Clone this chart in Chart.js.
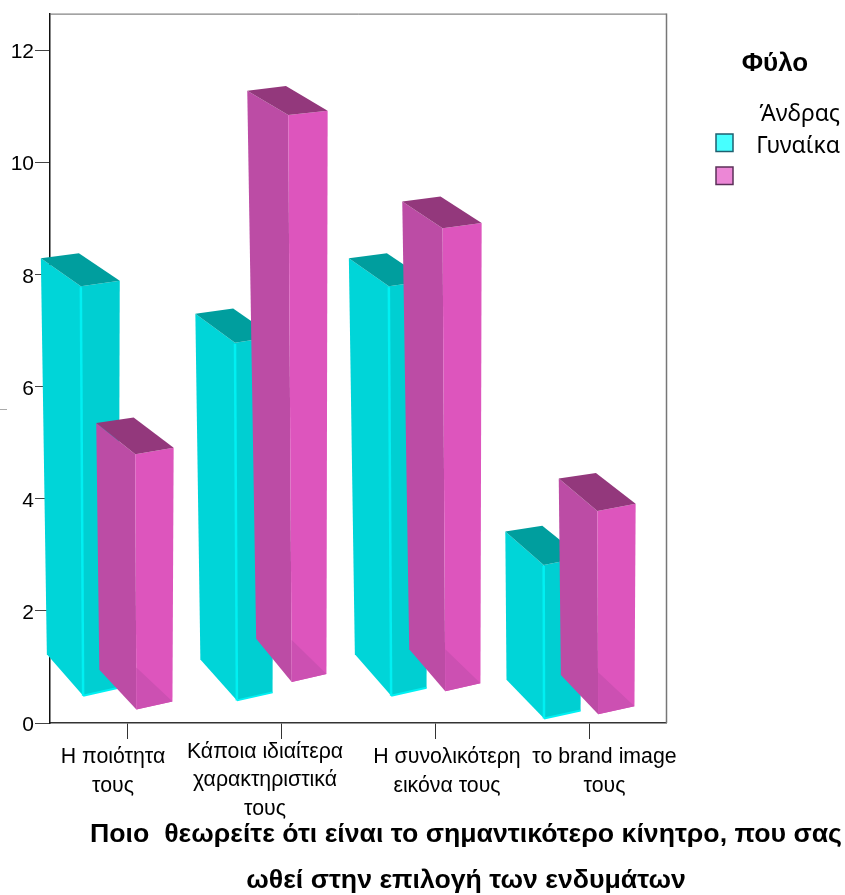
<!DOCTYPE html>
<html>
<head>
  <meta charset="UTF-8">
  <title>Chart</title>
  <script src="https://cdn.jsdelivr.net/npm/chart.js@4/dist/chart.umd.min.js"></script>
  <style>
    html, body { margin: 0; background: #fff; }
    canvas { display: block; }
  </style>
</head>
<body>
  <canvas id="chart" width="845" height="895"></canvas>
  <script>
    const categories = [
      ['Η ποιότητα', 'τους'],
      ['Κάποια ιδιαίτερα', 'χαρακτηριστικά', 'τους'],
      ['Η συνολικότερη', 'εικόνα τους'],
      ['το brand image', 'τους']
    ]
    const seriesNames = ['Άνδρας', 'Γυναίκα']
    const maleValues = [8, 7, 8, 3.07]
    const femaleValues = [5, 11, 9, 4]
    const legendTitle = 'Φύλο'
    const bottomTitle = [
      'Ποιο  θεωρείτε ότι είναι το σημαντικότερο κίνητρο, που σας',
      'ωθεί στην επιλογή των ενδυμάτων'
    ]

    // the labels in the original sit off their ticks
    const labelShift = [-14, -16, 12, 15.5]
    const labelBase = [763, 757.5, 763, 763]

    const faces = [
      { left: '#00d5d8', right: '#00cfd2', top: '#009e9e', tri: '#00cfd2', edge: '#00f0f2' },
      { left: '#bc4ca5', right: '#dd55bd', top: '#93387c', tri: '#cc50b2', edge: null }
    ]

    function poly(ctx, pts, color) {
      ctx.fillStyle = color
      ctx.beginPath()
      pts.forEach((p, i) => i ? ctx.lineTo(p.x, p.y) : ctx.moveTo(p.x, p.y))
      ctx.closePath()
      ctx.fill()
    }

    // fake perspective: corner offsets change a bit with bar height
    function drawBar3d(ctx, bar, style, isMale) {
      const h = bar.base - bar.y
      const t = (h - 280) / 337
      const mix = (a, b) => a + (b - a) * t
      const m = isMale ? 1.5 : 0
      const leftTop = { x: bar.x + mix(-57.7, -60.7), y: bar.y + mix(-19.8, -15.9) + m }
      const frontTop = { x: bar.x + mix(-18.7, -19.7), y: bar.y + mix(11.5, 8.4) + m }
      const rightTop = { x: bar.x + 19.7, y: bar.y + mix(4.8, 4.1) + m }
      const backTop = { x: bar.x + mix(-20.3, -22), y: bar.y + mix(-25.2, -20.6) + m }
      const frontBottom = { x: bar.x - 18.7 + 0.004 * h, y: bar.base + 10 - 0.082 * h }
      const leftBottom = { x: bar.x - 57 + 0.0085 * h, y: frontBottom.y - 37 - 0.01 * h }
      const rightBottom = { x: bar.x + 18.5, y: frontBottom.y - 8 }
      const inner = { x: frontBottom.x, y: frontBottom.y - 42 }

      poly(ctx, [leftTop, frontTop, frontBottom, leftBottom], style.left)
      poly(ctx, [frontTop, rightTop, rightBottom, frontBottom], style.right)
      poly(ctx, [inner, rightBottom, frontBottom], style.tri)
      poly(ctx, [leftTop, backTop, rightTop, frontTop], style.top)

      if (style.edge) {
        ctx.strokeStyle = style.edge
        ctx.lineWidth = 2.5
        ctx.beginPath()
        ctx.moveTo(frontTop.x, frontTop.y + 1)
        ctx.lineTo(frontBottom.x, frontBottom.y)
        ctx.stroke()
        ctx.lineWidth = 2
        ctx.beginPath()
        ctx.moveTo(frontBottom.x, frontBottom.y)
        ctx.lineTo(rightBottom.x, rightBottom.y)
        ctx.stroke()
      }
    }

    const decorations = {
      id: 'decorations',
      beforeDatasetsDraw(chart) {
        const ctx = chart.ctx
        const area = chart.chartArea
        ctx.save()
        // top and right of the frame
        ctx.lineWidth = 1
        ctx.strokeStyle = '#666'
        ctx.beginPath()
        ctx.moveTo(area.left, area.top + 0.5)
        ctx.lineTo(area.right + 0.5, area.top + 0.5)
        ctx.stroke()
        ctx.strokeStyle = '#777'
        ctx.lineWidth = 1.5
        ctx.beginPath()
        ctx.moveTo(area.right + 0.5, area.top)
        ctx.lineTo(area.right + 0.5, area.bottom)
        ctx.stroke()
        // stray mark on the left edge of the original
        ctx.strokeStyle = '#aaa'
        ctx.lineWidth = 1
        ctx.beginPath()
        ctx.moveTo(0, 409.5)
        ctx.lineTo(7, 409.5)
        ctx.stroke()
        ctx.restore()
      },
      afterDatasetsDraw(chart) {
        const ctx = chart.ctx
        ctx.save()
        chart.data.datasets.forEach((ds, i) => {
          chart.getDatasetMeta(i).data.forEach(bar => drawBar3d(ctx, bar, faces[i], i === 0))
        })
        ctx.restore()
      },
      afterDraw(chart) {
        const ctx = chart.ctx
        const xs = chart.scales.x
        ctx.save()
        ctx.fillStyle = '#000'
        ctx.textBaseline = 'alphabetic'

        // category labels
        ctx.textAlign = 'center'
        ctx.font = '21.3px "Liberation Sans"'
        categories.forEach((lines, i) => {
          const x = xs.getPixelForValue(i) + labelShift[i]
          lines.forEach((line, k) => ctx.fillText(line, x, labelBase[i] + k * 28.8))
        })

        // title under the chart
        ctx.font = 'bold 26.7px "Liberation Sans"'
        ctx.fillText(bottomTitle[0], 466, 841.5)
        ctx.fillText(bottomTitle[1], 466, 888)

        // legend, text and boxes are offset in the original
        ctx.font = 'bold 26px "Liberation Sans"'
        ctx.fillText(legendTitle, 775, 71)
        ctx.textAlign = 'right'
        ctx.font = '23px "Noto Sans"'
        ctx.fillText(seriesNames[0], 840, 121)
        ctx.fillText(seriesNames[1], 840, 152.5)

        ctx.lineWidth = 1.5
        ctx.fillStyle = '#47ffff'
        ctx.strokeStyle = '#1f5f6f'
        ctx.fillRect(716, 134, 17, 17.5)
        ctx.strokeRect(716, 134, 17, 17.5)
        ctx.fillStyle = '#ec87d6'
        ctx.strokeStyle = '#5b3058'
        ctx.fillRect(716, 167, 17, 17.5)
        ctx.strokeRect(716, 167, 17, 17.5)
        ctx.restore()
      }
    }

    new Chart(document.getElementById('chart').getContext('2d'), {
      type: 'bar',
      data: {
        labels: categories,
        datasets: [
          { label: seriesNames[0], data: maleValues, backgroundColor: 'transparent' },
          { label: seriesNames[1], data: femaleValues, backgroundColor: 'transparent' }
        ]
      },
      options: {
        responsive: false,
        animation: false,
        layout: { padding: { right: 179, top: 13 } },
        plugins: {
          legend: { display: false },
          tooltip: { enabled: false }
        },
        datasets: { bar: { categoryPercentage: 0.7, barPercentage: 1 } },
        scales: {
          x: {
            afterFit(scale) { scale.height = 172 },
            ticks: { display: false },
            border: { color: '#333', width: 1.5 },
            grid: { drawOnChartArea: false, offset: false, tickLength: 16, tickColor: '#333', tickWidth: 1 }
          },
          y: {
            min: 0,
            max: 12.66,
            afterFit(scale) { scale.width = 50 },
            afterBuildTicks(scale) { scale.ticks = scale.ticks.filter(t => t.value % 2 === 0) },
            ticks: {
              stepSize: 2,
              color: '#000',
              padding: 1,
              labelOffset: 2,
              font: { family: '"Liberation Sans"', size: 21 }
            },
            border: { color: '#111', width: 1.5 },
            grid: { drawOnChartArea: false, tickLength: 15, tickColor: '#444', tickWidth: 1 }
          }
        }
      },
      plugins: [decorations]
    })
  </script>
</body>
</html>
